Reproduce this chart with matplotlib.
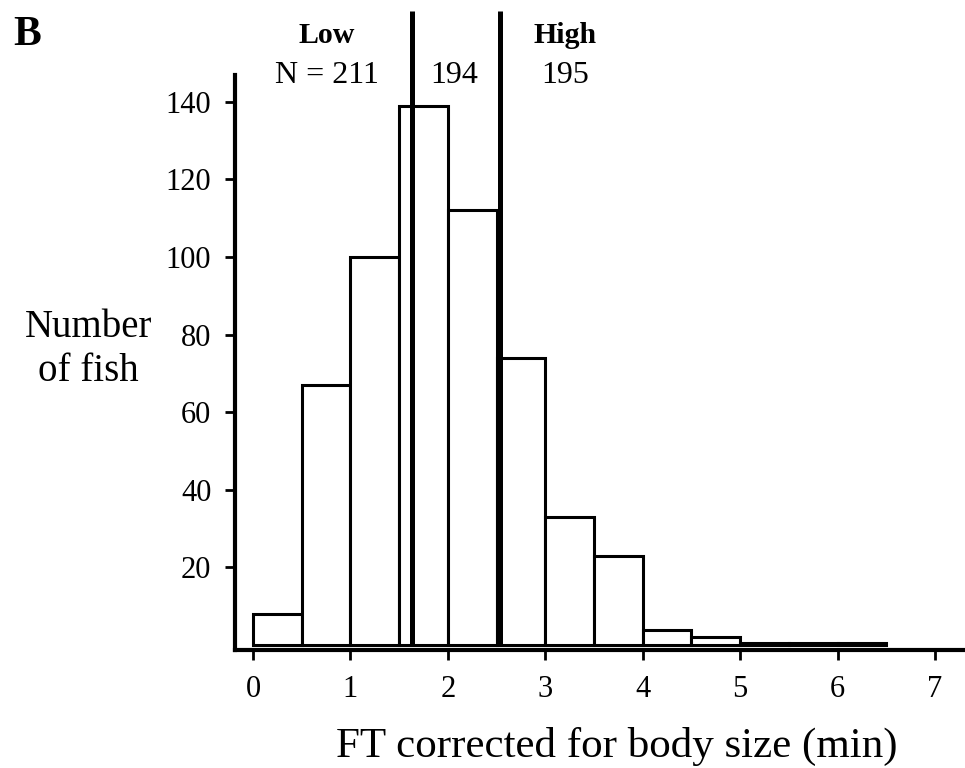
import numpy as np
import matplotlib
matplotlib.use("Agg")
import matplotlib.pyplot as plt
from matplotlib.transforms import blended_transform_factory

plt.rcParams['font.family'] = ['Liberation Serif', 'DejaVu Serif']

# histogram data (bins of 0.5 min)
bin_left = [0.0, 0.5, 1.0, 1.5, 2.0, 2.5, 3.0, 3.5, 4.0, 4.5, 5.0, 5.5, 6.0]
counts = [8, 67, 100, 139, 112, 74, 33, 23, 4, 2, 0.5, 0.5, 0.5]
bin_width = 0.5

# group cut-offs and labels
cuts = [1.63, 2.53]
group_x = [0.76, 2.06, 3.2]
group_names = ["Low", "", "High"]
group_n = ["N = 211", "194", "195"]

fig = plt.figure(figsize=(9.65, 7.68), dpi=100)
ax = fig.add_axes([0.2435, 0.1536, 0.7565, 0.7487])

ax.bar(bin_left, counts, width=bin_width, align='edge', color='white',
       edgecolor='black', linewidth=2.2, zorder=2)

ax.vlines(cuts, 0, 163.5, colors='black', linewidth=3.6, clip_on=False, zorder=3)

ax.set_xlim(-0.185, 7.307)
ax.set_ylim(-1.29, 146.9)

for s in ['top', 'right']:
    ax.spines[s].set_visible(False)
for s in ['left', 'bottom']:
    ax.spines[s].set_linewidth(3)

ax.set_xticks(range(0, 8))
ax.set_yticks(range(20, 141, 20))
ax.tick_params(axis='both', direction='out', length=7, width=2, labelsize=22)
ax.tick_params(axis='x', pad=11)
ax.tick_params(axis='y', pad=10)

fig.text(0.639, 0.0143, "FT corrected for body size (min)", fontsize=31,
         ha='center', va='baseline')

fig.text(0.092, 0.561, "Number", fontsize=28, ha='center', va='baseline')
fig.text(0.092, 0.504, "of fish", fontsize=28, ha='center', va='baseline')
fig.text(0.0135, 0.941, "B", fontsize=30, fontweight='bold', ha='left', va='baseline')

trans = blended_transform_factory(ax.transData, fig.transFigure)
for gx, name, n in zip(group_x, group_names, group_n):
    if name:
        ax.text(gx, 0.944, name, fontsize=21.5, fontweight='bold', ha='center',
                va='baseline', transform=trans, clip_on=False)
    ax.text(gx, 0.892, n, fontsize=23, ha='center', va='baseline',
            transform=trans, clip_on=False)

fig.savefig("out.png", dpi=100)
